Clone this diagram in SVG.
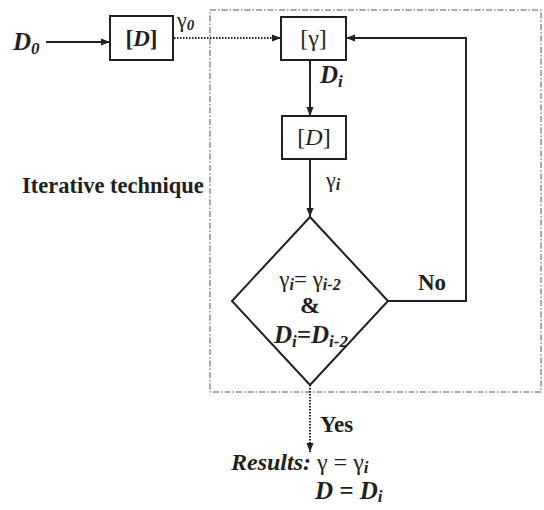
<svg xmlns="http://www.w3.org/2000/svg" width="544" height="510" viewBox="0 0 544 510">
<style>
.t{font-family:"Liberation Serif","Times New Roman",serif;fill:#231f20}
.b{font-weight:bold}
.i{font-style:italic}
.box{fill:#fff;stroke:#231f20;stroke-width:2}
.ln{fill:none;stroke:#231f20;stroke-width:2}
.dot{fill:none;stroke:#231f20;stroke-width:2;stroke-dasharray:1.5 1.5}
</style>
<defs>
<marker id="ah" viewBox="0 0 10 10" refX="10" refY="5" markerWidth="9" markerHeight="9" markerUnits="userSpaceOnUse" orient="auto">
<path d="M0,1 L10,5 L0,9 z" fill="#231f20"/>
</marker>
</defs>
<rect id="iterative-frame" x="210" y="10" width="331" height="382" fill="none" stroke="#555" stroke-width="1" stroke-dasharray="6 2 1.5 2"/>
<g id="connectors">
<line class="ln" x1="46" y1="42" x2="110" y2="42" marker-end="url(#ah)"/>
<line class="dot" x1="174" y1="38" x2="281" y2="38" marker-end="url(#ah)"/>
<line class="ln" x1="310" y1="60" x2="310" y2="116" marker-end="url(#ah)"/>
<line class="ln" x1="310" y1="159" x2="310" y2="217" marker-end="url(#ah)"/>
<polyline class="ln" points="388,301 466,301 466,38 346,38" marker-end="url(#ah)"/>
<line class="dot" x1="310" y1="385" x2="310" y2="452" marker-end="url(#ah)"/>
<text class="t" x="177" y="27" font-size="22">γ<tspan font-size="15" dy="3" class="b i">0</tspan></text>
<text class="t b i" x="320" y="83" font-size="25">D<tspan font-size="17" dy="4">i</tspan></text>
<text class="t" x="326" y="187" font-size="22">γ<tspan font-size="16" dy="3" class="b i">i</tspan></text>
<text class="t b" x="418" y="290" font-size="23">No</text>
<text class="t b" x="320" y="432" font-size="23">Yes</text>
</g>
<g id="d0">
<text class="t b i" x="13" y="50" font-size="25">D<tspan font-size="17" dy="4">0</tspan></text>
</g>
<g id="d-box-1">
<rect class="box" x="110" y="16" width="63" height="44"/>
<text class="t b" x="141.5" y="46" font-size="23" text-anchor="middle">[<tspan class="i">D</tspan>]</text>
</g>
<g id="gamma-box">
<rect class="box" x="281" y="17" width="65" height="43"/>
<text class="t" x="313.5" y="46" font-size="24" text-anchor="middle">[γ]</text>
</g>
<g id="d-box-2">
<rect class="box" x="282" y="116" width="64" height="43"/>
<text class="t" x="314" y="145" font-size="24" text-anchor="middle">[<tspan class="i">D</tspan>]</text>
</g>
<g id="label-iterative">
<text class="t b" x="22" y="193" font-size="22.5">Iterative technique</text>
</g>
<g id="decision">
<polygon class="box" points="310,217 388,301 310,385 232,301"/>
<text class="t" x="310" y="287" font-size="23" text-anchor="middle">γ<tspan class="b i" font-size="16" dy="3">i</tspan><tspan dy="-3">= γ</tspan><tspan class="b i" font-size="16" dy="3">i-2</tspan></text>
<text class="t b" x="310" y="313" font-size="24" text-anchor="middle">&amp;</text>
<text class="t b i" x="311" y="343" font-size="25" text-anchor="middle">D<tspan font-size="17" dy="4">i</tspan><tspan dy="-4">=D</tspan><tspan font-size="17" dy="4">i-2</tspan></text>
</g>
<g id="results">
<text class="t" x="231" y="470" font-size="24"><tspan class="b i">Results:</tspan> γ =  γ<tspan class="b i" font-size="17" dy="3">i</tspan></text>
<text class="t b i" x="315" y="499" font-size="25">D = D<tspan font-size="17" dy="3">i</tspan></text>
</g>
</svg>
